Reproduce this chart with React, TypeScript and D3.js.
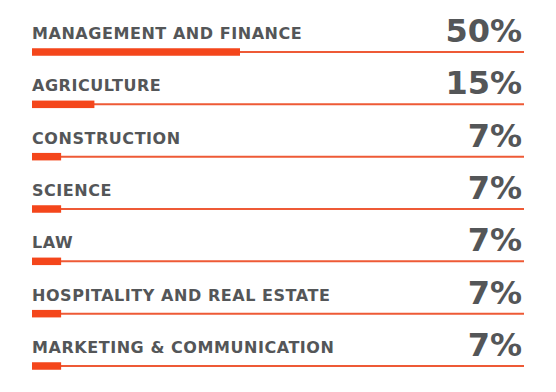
import React from "react";
import * as d3 from "d3";

const categories = [
  "MANAGEMENT AND FINANCE",
  "AGRICULTURE",
  "CONSTRUCTION",
  "SCIENCE",
  "LAW",
  "HOSPITALITY AND REAL ESTATE",
  "MARKETING & COMMUNICATION",
];
const values = [50, 15, 7, 7, 7, 7, 7];

const W = 556;
const H = 392;
const left = 32;
const right = 524;

const TEXT = "#545658";
const BAR = "#f4461b";
const LINE = "#ee5a36";
const FONT = "'DejaVu Sans', sans-serif";

export default function App() {
  const x = d3.scaleLinear().domain([0, 100]).range([left, left + 416]);
  const y = d3.scalePoint<string>().domain(categories).range([52, 366]);

  return (
    <svg
      width={W}
      height={H}
      viewBox={`0 0 ${W} ${H}`}
      style={{ position: "absolute", left: 0, top: 0, background: "#fff" }}
    >
      {categories.map((c, i) => {
        const yy = y(c) as number;
        return (
          <g key={c}>
            <line x1={left} x2={right} y1={yy} y2={yy} stroke={LINE} strokeWidth={2} />
            <rect x={x(0)} y={yy - 3.75} width={x(values[i]) - x(0)} height={7.5} fill={BAR} />
            <text
              x={left}
              y={yy - 13}
              fill={TEXT}
              fontFamily={FONT}
              fontWeight={700}
              fontSize={16}
              letterSpacing={0.55}
            >
              {c}
            </text>
            <text
              x={right - 2}
              y={yy - 10}
              textAnchor="end"
              fill={TEXT}
              fontFamily={FONT}
              fontWeight={700}
              fontSize={32}
            >
              {`${values[i]}%`}
            </text>
          </g>
        );
      })}
    </svg>
  );
}
